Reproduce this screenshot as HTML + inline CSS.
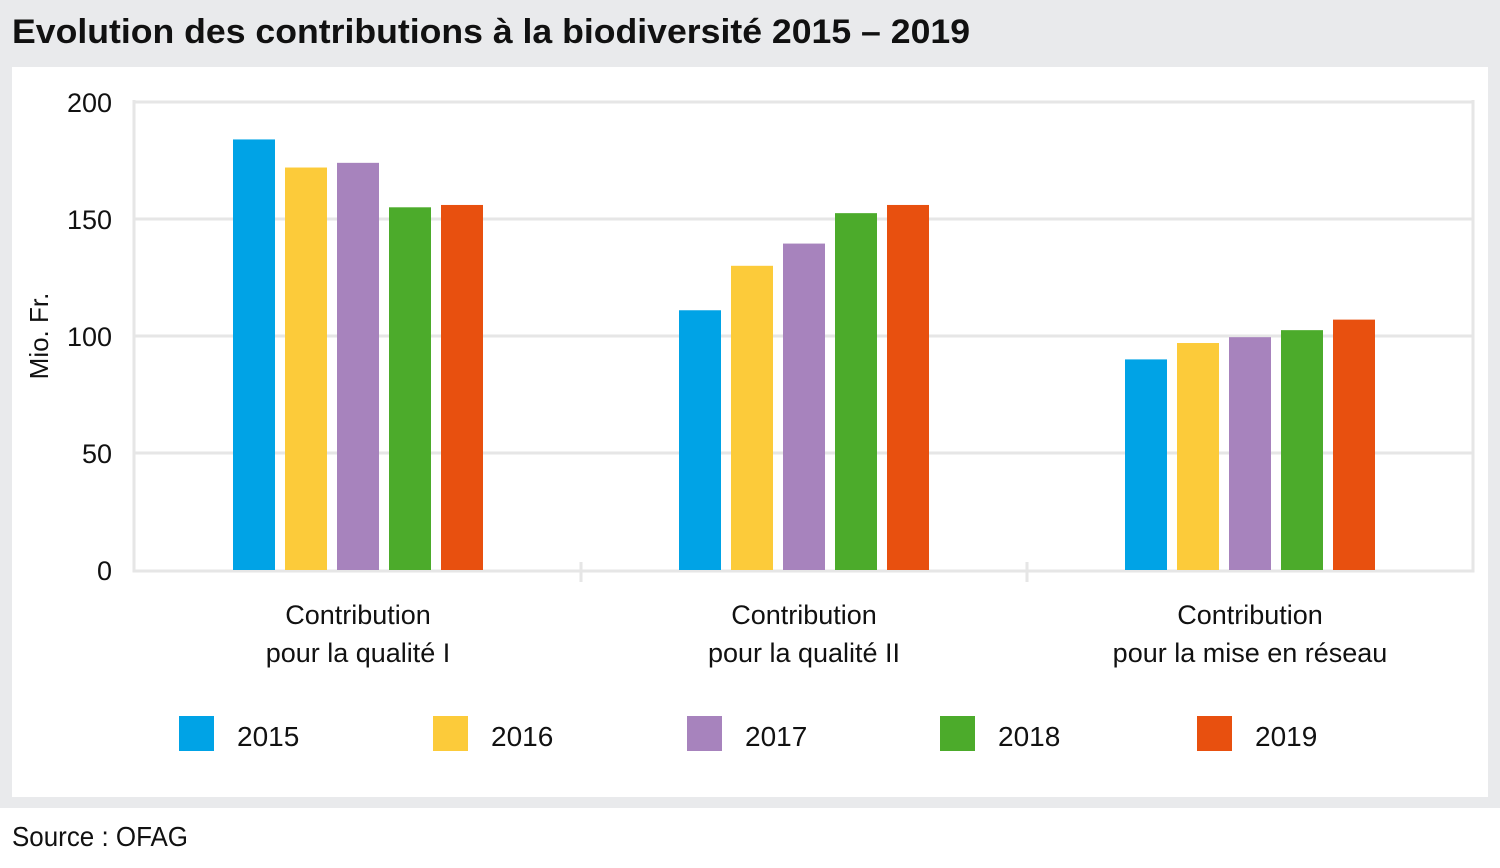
<!DOCTYPE html>
<html><head><meta charset="utf-8"><style>
html,body{margin:0;padding:0;background:#fff;}
svg{display:block;font-family:"Liberation Sans Narrow","Liberation Sans",sans-serif;}
</style></head><body>
<svg id="c" width="1500" height="868" viewBox="0 0 1500 868">
<rect x="0" y="0" width="1500" height="808" fill="#e9eaec"/>
<text x="12" y="43" font-size="34" font-weight="bold" fill="#111" textLength="958" lengthAdjust="spacingAndGlyphs">Evolution des contributions à la biodiversité 2015 – 2019</text>
<rect x="12" y="67" width="1476" height="730" fill="#fff"/>
<g id="grid"></g>
<g id="bars"></g>
<g id="labels"></g>
<g id="legend"></g>
<text x="48" y="336" font-size="26" fill="#111" text-anchor="middle" transform="rotate(-90 48 336)">Mio. Fr.</text>
<text x="12" y="846" font-size="28" fill="#111" textLength="176" lengthAdjust="spacingAndGlyphs">Source : OFAG</text>
</svg>
<script>
const categories=[["Contribution","pour la qualité I"],["Contribution","pour la qualité II"],["Contribution","pour la mise en réseau"]];
const years=["2015","2016","2017","2018","2019"];
const colors=["#00a3e6","#fccb3a","#a783bd","#4cab2b","#e8500f"];
const v2015=[184,111,90];
const v2016=[172,130,97];
const v2017=[174,139.5,99.5];
const v2018=[155,152.5,102.5];
const v2019=[156,156,107];
const yTicks=[0,50,100,150,200];
const series=[v2015,v2016,v2017,v2018,v2019];
const NS="http://www.w3.org/2000/svg";
const X0=135,X1=1473,Y0=570,Y1=102,YMAX=200;
const y=v=>Y0-(v/YMAX)*(Y0-Y1);
const bw=(X1-X0)/categories.length;
const xc=i=>X0+bw*(i+0.5);
function mk(tag,attrs,parent){const e=document.createElementNS(NS,tag);for(const k in attrs)e.setAttribute(k,attrs[k]);parent.appendChild(e);return e;}
const grid=document.getElementById('grid');
yTicks.forEach(t=>{
  if(t>0){const l=mk('line',{x1:X0,x2:X1,y1:y(t),y2:y(t),stroke:'#e6e6e6','stroke-width':3},grid);
  
  }
  const tx=mk('text',{x:112,y:y(t)+10,'font-size':27,'text-anchor':'end',fill:'#111'},grid);
  tx.textContent=t;
  
  
});
const ax=mk('path',{d:`M${X0-1} ${Y1-2}V${Y0+1}H${X1}V${Y1-2}`,fill:'none',stroke:'#e6e6e6','stroke-width':3},grid);


for(let i=1;i<categories.length;i++){
  const tk=mk('line',{x1:X0+bw*i,x2:X0+bw*i,y1:Y0-8,y2:Y0+12,stroke:'#e6e6e6','stroke-width':3},grid);
  
  
}
const bars=document.getElementById('bars');
const step=52,barW=42;
categories.forEach((c,i)=>{
  series.forEach((s,j)=>{
    const x=xc(i)+(j-2)*step-barW/2;
    const r=mk('rect',{x:x,y:y(s[i]),width:barW,height:Y0-y(s[i]),fill:colors[j]},bars);
    
    
  });
  const lab=mk('text',{x:xc(i),y:624,'font-size':27,'text-anchor':'middle',fill:'#111'},document.getElementById('labels'));
  
  
  c.forEach((ln,k)=>{const ts=mk('tspan',{x:xc(i),dy:k?38:0},lab);ts.textContent=ln;});
});
const lg=document.getElementById('legend');
const lx=[179,433,687,940,1197];
years.forEach((yr,j)=>{
  const g=mk('g',{},lg);
  
  
  mk('rect',{x:lx[j],y:716,width:35,height:35,fill:colors[j]},g);
  const t=mk('text',{x:lx[j]+58,y:746,'font-size':28,fill:'#111'},g);
  t.textContent=yr;
});
</script>
</body></html>
